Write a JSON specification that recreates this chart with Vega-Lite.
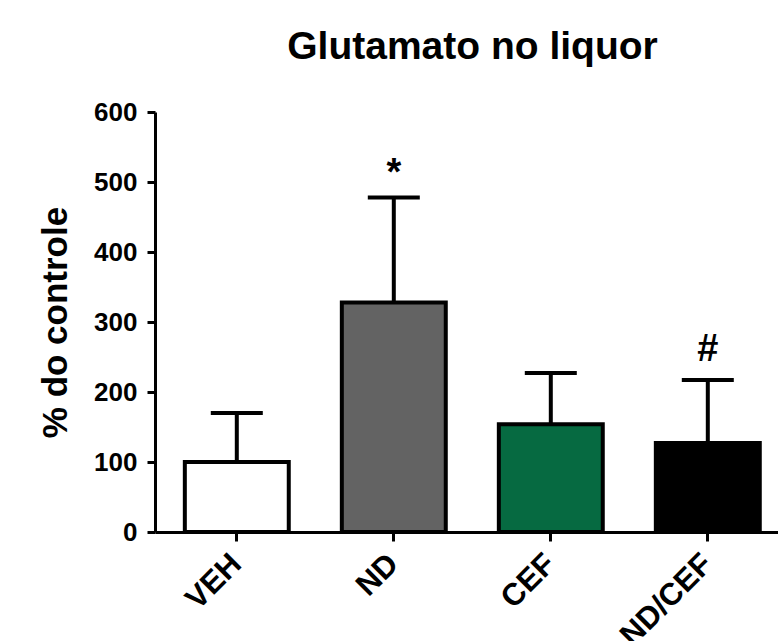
{
  "$schema": "https://vega.github.io/schema/vega-lite/v6.json",
  "width": 623,
  "height": 420,
  "autosize": {"type": "none"},
  "padding": {"left": 155, "top": 112, "right": 0, "bottom": 109},
  "background": "white",
  "config": {"view": {"stroke": null}, "font": "Liberation Sans"},
  "title": {"text": "Glutamato no liquor", "fontSize": 39, "fontWeight": "bold", "font": "Liberation Sans", "color": "black", "anchor": "middle", "baseline": "alphabetic", "offset": 1, "dx": 6},
  "data": {"values": [
    {"grupo": "VEH", "media": 100, "sup": 170, "sig": ""},
    {"grupo": "ND", "media": 328, "sup": 478, "sig": "*"},
    {"grupo": "CEF", "media": 154, "sup": 227, "sig": ""},
    {"grupo": "ND/CEF", "media": 127, "sup": 217, "sig": "#"}
  ]},
  "encoding": {
    "x": {
      "field": "grupo", "type": "nominal", "sort": ["VEH", "ND", "CEF", "ND/CEF"],
      "scale": {"range": [0, 634.6], "paddingInner": 0.338, "paddingOuter": 0.19},
      "axis": {"title": null, "labelAngle": -45, "labelAlign": "right", "labelBaseline": "middle", "labelDx": -8, "labelFontSize": 31, "labelFontWeight": "bold", "labelColor": "black", "labelFont": "Liberation Sans", "domainColor": "black", "domainWidth": 3, "tickColor": "black", "tickWidth": 3, "tickSize": 9, "labelPadding": 18, "grid": false}
    }
  },
  "layer": [
    {
      "mark": {"type": "bar", "stroke": "black", "strokeWidth": 4},
      "encoding": {
        "y": {"field": "media", "type": "quantitative", "scale": {"domain": [0, 600], "nice": false},
          "axis": {"title": "% do controle", "titleFontSize": 35, "titleFontWeight": "bold", "titleColor": "black", "titleFont": "Liberation Sans", "titlePadding": 20, "values": [0, 100, 200, 300, 400, 500, 600], "labelFontSize": 26, "labelFontWeight": "bold", "labelColor": "black", "labelFont": "Liberation Sans", "labelPadding": 10, "domainColor": "black", "domainWidth": 3, "tickColor": "black", "tickWidth": 3, "tickSize": 8, "grid": false}},
        "fill": {"field": "grupo", "type": "nominal", "scale": {"domain": ["VEH", "ND", "CEF", "ND/CEF"], "range": ["#ffffff", "#636363", "#066a41", "#000000"]}, "legend": null}
      }
    },
    {
      "mark": {"type": "rule", "color": "black", "strokeWidth": 4},
      "encoding": {
        "y": {"field": "media", "type": "quantitative"},
        "y2": {"field": "sup"}
      }
    },
    {
      "mark": {"type": "tick", "color": "black", "opacity": 1, "thickness": 4, "size": 52, "orient": "horizontal"},
      "encoding": {
        "y": {"field": "sup", "type": "quantitative"}
      }
    },
    {
      "transform": [{"filter": "datum.sig == '*'"}],
      "mark": {"type": "text", "fontSize": 38, "fontWeight": "bold", "font": "Liberation Sans", "color": "black", "baseline": "alphabetic", "dy": -12},
      "encoding": {
        "y": {"field": "sup", "type": "quantitative"},
        "text": {"field": "sig"}
      }
    },
    {
      "transform": [{"filter": "datum.sig == '#'"}],
      "mark": {"type": "text", "fontSize": 38, "fontWeight": "bold", "font": "Liberation Sans", "color": "black", "baseline": "alphabetic", "dy": -19},
      "encoding": {
        "y": {"field": "sup", "type": "quantitative"},
        "text": {"field": "sig"}
      }
    }
  ]
}
